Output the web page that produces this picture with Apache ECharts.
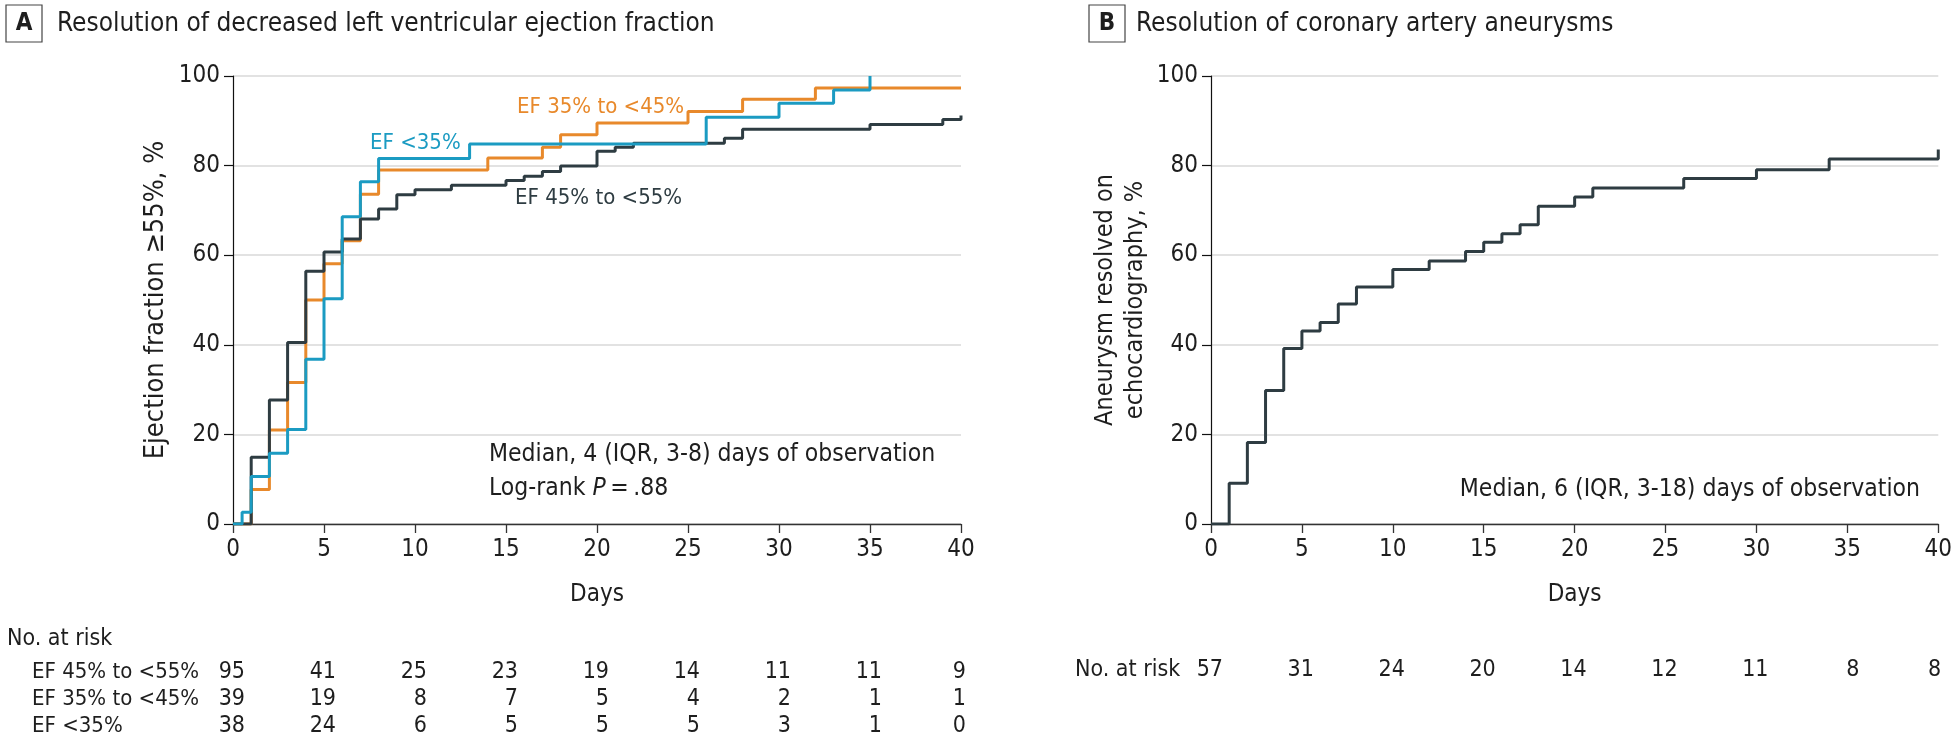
<!DOCTYPE html>
<html>
<head>
<meta charset="utf-8">
<script src="https://cdn.jsdelivr.net/npm/echarts@6/dist/echarts.min.js"></script>
<style>
  html, body { margin: 0; padding: 0; background: #fff; }
  #main { width: 1955px; height: 741px; }
</style>
</head>
<body>
<div id="main"></div>
<script>
var FONT = "'DejaVu Sans Condensed', 'Liberation Sans', sans-serif";
var TXT = '#1e1e1e';
var C_HIGH = '#2e3c42', C_MID = '#e8892b', C_LOW = '#1b9bc2';

// panel A: cumulative % with EF >= 55%, [day, %]
var efHigh = [[0,0],[1,14.9],[2,27.7],[3,40.5],[4,56.4],[5,60.7],[6,63.6],[7,68.1],[8,70.3],[9,73.5],[10,74.6],[12,75.6],[15,76.7],[16,77.6],[17,78.7],[18,79.9],[20,83.2],[21,84.1],[22,85.0],[27,86.1],[28,88.1],[35,89.2],[39,90.3],[40,91.2]];
var efMid = [[0,0],[1,7.7],[2,21.0],[3,31.6],[4,50.0],[5,58.1],[6,63.2],[7,73.6],[8,79.0],[14,81.7],[17,84.1],[18,86.9],[20,89.5],[25,92.1],[28,94.8],[32,97.3],[40,97.3]];
var efLow = [[0,0],[0.5,2.6],[1,10.6],[2,15.8],[3,21.1],[4,36.8],[5,50.3],[6,68.6],[7,76.4],[8,81.6],[13,84.8],[26,90.8],[30,93.9],[33,96.9],[35,100]];
// panel B: cumulative % aneurysm resolved
var aneurysm = [[0,0],[1,9.1],[2,18.2],[3,29.8],[4,39.2],[5,43.1],[6,45.0],[7,49.1],[8,52.9],[10,56.8],[12,58.7],[14,60.8],[15,62.9],[16,64.8],[17,66.8],[18,70.9],[20,73.0],[21,75.0],[26,77.1],[30,79.1],[34,81.5],[40,83.6]];

// numbers at risk
var riskDays = [0, 5, 10, 15, 20, 25, 30, 35, 40];
var riskHigh = [95, 41, 25, 23, 19, 14, 11, 11, 9];
var riskMid = [39, 19, 8, 7, 5, 4, 2, 1, 1];
var riskLow = [38, 24, 6, 5, 5, 5, 3, 1, 0];
var riskAneurysm = [57, 31, 24, 20, 14, 12, 11, 8, 8];

var chart = echarts.init(document.getElementById('main'));

function xAx(i) {
  return {
    gridIndex: i, type: 'value', min: 0, max: 40, interval: 5,
    name: 'Days', nameLocation: 'middle', nameGap: 59,
    nameTextStyle: { fontSize: 24, color: TXT, fontFamily: FONT },
    axisLine: { lineStyle: { color: '#333', width: 1.3 } },
    axisTick: { length: 9, lineStyle: { color: '#333', width: 1.3 } },
    axisLabel: { fontSize: 24, color: TXT, margin: 14, fontFamily: FONT },
    splitLine: { show: false }
  };
}
function yAx(i, name, size, gap) {
  return {
    gridIndex: i, type: 'value', min: 0, max: 100, interval: 20,
    name: name, nameLocation: 'middle', nameGap: gap, nameRotate: 90,
    nameTextStyle: { fontSize: size, color: TXT, fontFamily: FONT, lineHeight: 30 },
    axisLine: { show: true, lineStyle: { color: '#111', width: 1.2 } },
    axisTick: { show: true, length: 9, lineStyle: { color: '#111', width: 1.2 } },
    axisLabel: { fontSize: 24, color: TXT, margin: 13, fontFamily: FONT },
    splitLine: { show: true, lineStyle: { color: '#d8d8d8', width: 1.6 } }
  };
}
function km(data, color, xi) {
  return {
    type: 'line', step: 'end', data: data, xAxisIndex: xi, yAxisIndex: xi,
    showSymbol: false, symbol: 'none', animation: false,
    lineStyle: { color: color, width: 3 }, itemStyle: { color: color }
  };
}

chart.setOption({
  animation: false,
  grid: [
    { left: 233, top: 76, width: 728, height: 448 },
    { left: 1211, top: 76, width: 728, height: 448 }
  ],
  xAxis: [xAx(0), xAx(1)],
  yAxis: [
    yAx(0, 'Ejection fraction \u226555%, %', 27, 62),
    yAx(1, 'Aneurysm resolved on\nechocardiography, %', 25, 61)
  ],
  series: [
    km(efMid, C_MID, 0),
    km(efHigh, C_HIGH, 0),
    km(efLow, C_LOW, 0),
    km(aneurysm, C_HIGH, 1)
  ]
});

function txt(x, y, s, opt) {
  opt = opt || {};
  return {
    type: 'text', x: x, y: y, silent: true,
    style: {
      text: s, fill: opt.color || TXT, fontSize: opt.size || 24, fontFamily: FONT,
      fontWeight: opt.weight || 'normal',
      align: opt.align || 'left', verticalAlign: 'middle', rich: opt.rich
    }
  };
}

var g = [];
// panel titles
g.push({ type: 'rect', shape: { x: 6, y: 5, width: 36, height: 37 }, style: { fill: 'none', stroke: '#444', lineWidth: 1.2 } });
g.push(txt(24, 24, 'A', { weight: 'bold', align: 'center' }));
g.push(txt(57, 24, 'Resolution of decreased left ventricular ejection fraction', { size: 26 }));
g.push({ type: 'rect', shape: { x: 1089, y: 5, width: 36, height: 37 }, style: { fill: 'none', stroke: '#444', lineWidth: 1.2 } });
g.push(txt(1107, 24, 'B', { weight: 'bold', align: 'center' }));
g.push(txt(1136, 24, 'Resolution of coronary artery aneurysms', { size: 26 }));

// curve labels
g.push(txt(517, 107, 'EF 35% to <45%', { color: C_MID, size: 22 }));
g.push(txt(370, 143, 'EF <35%', { color: C_LOW, size: 22 }));
g.push(txt(515, 198, 'EF 45% to <55%', { color: C_HIGH, size: 22 }));

// annotations
g.push(txt(489, 455, 'Median, 4 (IQR, 3-8) days of observation', { size: 24.5 }));
g.push(txt(489, 489, 'Log-rank {i|P}\u2009=\u2009.88', { size: 24.5, rich: { i: { fontStyle: 'italic', fontSize: 24.5, fontFamily: FONT, fill: TXT } } }));
g.push(txt(1920, 490, 'Median, 6 (IQR, 3-18) days of observation', { align: 'right', size: 24.5 }));

// numbers at risk
g.push(txt(7, 639, 'No. at risk', { size: 23 }));
var rowsA = [['EF 45% to <55%', riskHigh, 672], ['EF 35% to <45%', riskMid, 699], ['EF <35%', riskLow, 726]];
rowsA.forEach(function (r) {
  g.push(txt(32, r[2], r[0], { size: 22 }));
  riskDays.forEach(function (d, k) {
    var px = chart.convertToPixel({ xAxisIndex: 0 }, d);
    var last = k === riskDays.length - 1;
    g.push(txt(last ? px + 5 : px + 12, r[2], String(r[1][k]), { align: 'right', size: 23 }));
  });
});
g.push(txt(1075, 670, 'No. at risk', { size: 23 }));
riskDays.forEach(function (d, k) {
  var px = chart.convertToPixel({ xAxisIndex: 1 }, d);
  var last = k === riskDays.length - 1;
  g.push(txt(last ? px + 3 : px + 12, 670, String(riskAneurysm[k]), { align: 'right', size: 23 }));
});

chart.setOption({ graphic: g });
</script>
</body>
</html>
